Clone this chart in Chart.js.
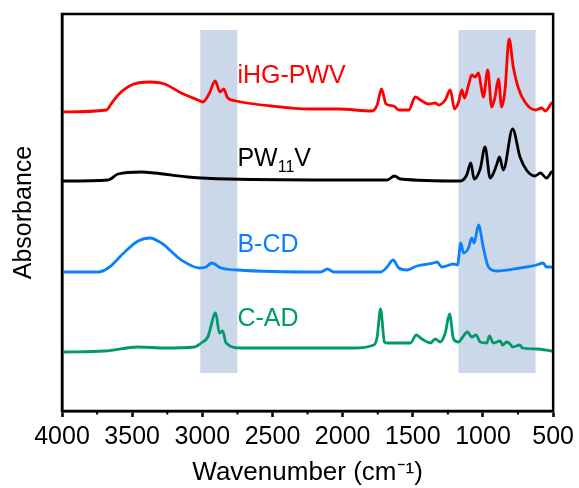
<!DOCTYPE html>
<html>
<head>
<meta charset="utf-8">
<script src="https://cdn.jsdelivr.net/npm/chart.js@4.4.1/dist/chart.umd.min.js"></script>
<style>
  html, body { margin: 0; padding: 0; background: #fff; }
</style>
</head>
<body>
<canvas id="chart" width="579" height="488"></canvas>
<script>
"use strict"

// wavenumbers (cm-1) and absorbance (arbitrary units, stacked offsets included)
const redWn  = [4000, 3683, 3650, 3600, 3505, 3375, 3269, 3150, 3032, 2997, 2949, 2909, 2873, 2848, 2819, 2760, 2511, 2239, 2026, 1792, 1754, 1723, 1691, 1636, 1600, 1529, 1482, 1446, 1387, 1340, 1316, 1269, 1233, 1203, 1174, 1151, 1132, 1103, 1080, 1056, 1032, 1013, 997, 966, 938, 914, 890, 867, 843, 814, 784, 748, 701, 626, 583, 555, 512];
const redAbs = [299, 301, 307, 316, 326, 329, 327, 318, 311, 309, 318, 330, 319, 322, 313, 310, 305, 302, 302, 300, 306, 322, 307, 305, 301, 301, 314, 311, 307, 308, 306, 311, 321, 302, 309, 321, 313, 326, 336, 334, 338, 324, 314, 341, 304, 314, 332, 304, 321, 372, 344, 323, 309, 301, 303, 300, 308];

const blackWn  = [4000, 3671, 3600, 3434, 3340, 3103, 2819, 1920, 1683, 1631, 1588, 1162, 1116, 1087, 1063, 1020, 985, 949, 903, 883, 855, 789, 736, 690, 630, 590, 548, 512];
const blackAbs = [230, 231, 237, 239, 238, 234, 232, 231, 231, 235, 232, 230, 236, 248, 232, 242, 264, 233, 246, 254, 241, 282, 254, 241, 235, 238, 233, 239];

const blueWn  = [4000, 3742, 3671, 3553, 3458, 3375, 3292, 3150, 3020, 2973, 2933, 2866, 2748, 2156, 2109, 2062, 1730, 1683, 1641, 1600, 1541, 1470, 1352, 1328, 1293, 1210, 1182, 1158, 1139, 1103, 1080, 1063, 1032, 997, 961, 903, 736, 619, 571, 548, 512];
const blueAbs = [139, 139, 143, 159, 170, 173, 168, 151, 143, 144, 148, 143, 141, 139, 142, 139, 139, 144, 151, 143, 141, 145, 148, 149, 144, 147, 146, 168, 158, 163, 173, 168, 186, 163, 144, 140, 143, 146, 148, 144, 144];

const greenWn  = [4000, 3695, 3458, 3269, 3056, 3008, 2961, 2905, 2878, 2855, 2831, 2724, 2393, 1920, 1778, 1754, 1730, 1702, 1683, 1517, 1475, 1435, 1375, 1340, 1304, 1269, 1238, 1210, 1174, 1144, 1111, 1080, 1049, 1020, 973, 954, 926, 878, 860, 832, 807, 790, 737, 720, 619, 512];
const greenAbs = [59, 60, 64, 63, 64, 68, 74, 98, 78, 80, 68, 63, 63, 63, 66, 74, 102, 69, 68, 68, 76, 72, 68, 72, 69, 78, 97, 72, 69, 74, 79, 74, 76, 69, 68, 75, 68, 70, 66, 69, 67, 64, 66, 63, 62, 60];

const seriesNames = ['iHG-PWV', 'PW11V', 'B-CD', 'C-AD'];
const xTicks = [4000, 3500, 3000, 2500, 2000, 1500, 1000, 500];
const xMinorTicks = [3750, 3250, 2750, 2250, 1750, 1250, 750];
const bandFrom = [3015, 1175];
const bandTo = [2750, 625];

const FONT = "'Liberation Sans', Arial, sans-serif";
const colors = ['#ff0000', '#000000', '#0a80ff', '#00996b'];

function pts(xs, ys) {
  return xs.map((v, i) => ({x: v, y: ys[i]}));
}

const series = [[redWn, redAbs], [blackWn, blackAbs], [blueWn, blueAbs], [greenWn, greenAbs]];

// label anchors: wavenumber of left edge, absorbance of baseline
const labelAt = {x: 2750, y: [328, 245, 159, 85]};

const decor = {
  id: 'decor',
  beforeDatasetsDraw(chart) {
    const {ctx, scales: {x, y}} = chart;
    ctx.save();
    ctx.fillStyle = '#cbd8ea';
    const yTop = y.getPixelForValue(381), yBot = y.getPixelForValue(38);
    bandFrom.forEach((f, i) => {
      const x1 = x.getPixelForValue(f), x2 = x.getPixelForValue(bandTo[i]);
      ctx.fillRect(x1, yTop, x2 - x1, yBot - yTop);
    });
    ctx.restore();
  },
  afterDraw(chart) {
    const {ctx, chartArea: a, scales: {x, y}} = chart;
    ctx.save();
    // frame
    ctx.strokeStyle = '#000';
    ctx.lineWidth = 2.5;
    ctx.strokeRect(a.left, a.top, a.right - a.left, a.bottom - a.top);
    // minor ticks
    ctx.lineWidth = 2;
    xMinorTicks.forEach(v => {
      const px = x.getPixelForValue(v);
      ctx.beginPath();
      ctx.moveTo(px, a.bottom);
      ctx.lineTo(px, a.bottom + 3.5);
      ctx.stroke();
    });
    // series labels
    ctx.textBaseline = 'alphabetic';
    ctx.textAlign = 'left';
    const lx = x.getPixelForValue(labelAt.x);
    seriesNames.forEach((name, i) => {
      const ly = y.getPixelForValue(labelAt.y[i]);
      ctx.fillStyle = colors[i];
      ctx.font = '25px ' + FONT;
      if (name === 'PW11V') {
        ctx.fillText('PW', lx, ly);
        let w = ctx.measureText('PW').width;
        ctx.font = '16px ' + FONT;
        ctx.fillText('11', lx + w, ly + 6);
        w += ctx.measureText('11').width;
        ctx.font = '25px ' + FONT;
        ctx.fillText('V', lx + w, ly);
      } else {
        ctx.fillText(name, lx, ly);
      }
    });
    ctx.restore();
  }
};

new Chart(document.getElementById('chart'), {
  type: 'line',
  data: {
    datasets: series.map((s, i) => ({
      label: seriesNames[i],
      data: pts(s[0], s[1]),
      borderColor: colors[i],
      borderWidth: 2.8,
      pointRadius: 0,
      cubicInterpolationMode: 'monotone',
      borderJoinStyle: 'round',
      borderCapStyle: 'round'
    }))
  },
  options: {
    responsive: false,
    animation: false,
    layout: {padding: {left: 0, right: 24, top: 14, bottom: 0}},
    plugins: {legend: {display: false}, tooltip: {enabled: false}},
    scales: {
      x: {
        type: 'linear',
        reverse: true,
        min: 500,
        max: 4000,
        afterBuildTicks: s => { s.ticks = xTicks.map(v => ({value: v})); },
        afterFit: s => { s.height = 77; },
        ticks: {color: '#000', font: {family: FONT, size: 25}, padding: 5, maxRotation: 0, autoSkip: false,
          callback: v => String(v)},
        grid: {drawOnChartArea: false, drawTicks: true, tickLength: 6, tickWidth: 2.5, tickColor: '#000'},
        border: {display: true, color: '#000', width: 2.5},
        title: {display: true, text: 'Wavenumber (cm\u207B\u00B9)', color: '#000',
          font: {family: FONT, size: 26, lineHeight: 1.15}, padding: {top: 0, bottom: 0}}
      },
      y: {
        type: 'linear',
        min: 0,
        max: 397,
        afterFit: s => { s.width = 62; },
        ticks: {display: false},
        grid: {display: false},
        border: {display: true, color: '#000', width: 2.5},
        title: {display: true, text: 'Absorbance', color: '#000', font: {family: FONT, size: 25}, padding: {top: 9, bottom: 9}}
      }
    }
  },
  plugins: [decor]
});
</script>
</body>
</html>
